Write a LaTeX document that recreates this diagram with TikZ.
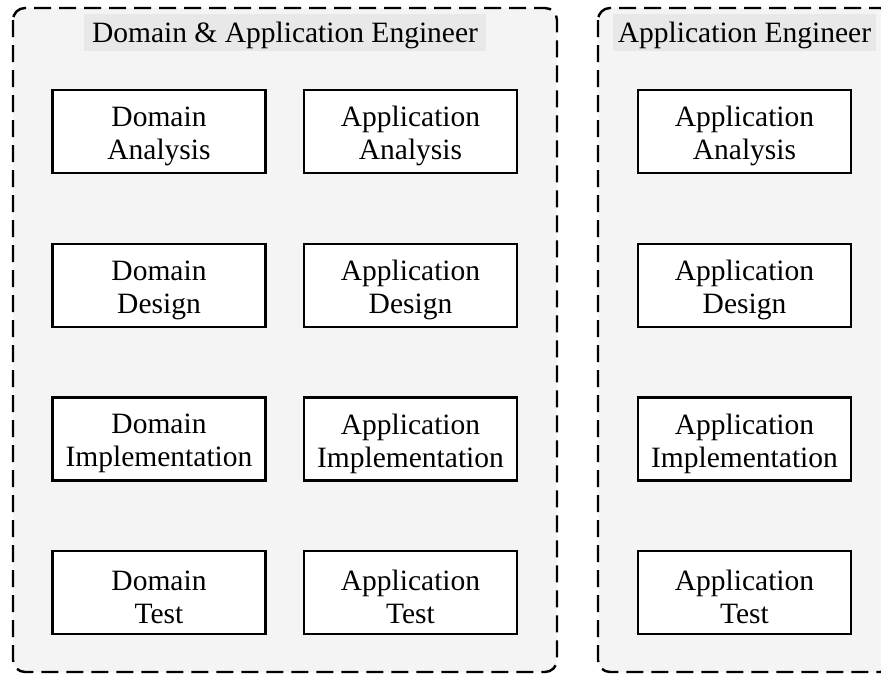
\documentclass[tikz,border=0pt]{standalone}
\usepackage{fontspec}
\setmainfont{Liberation Serif}
\definecolor{panelfill}{HTML}{F4F4F4}
\definecolor{titlefill}{HTML}{E8E8E8}
\tikzset{
  panel/.style={draw=black, fill=panelfill, line width=2.4pt, dash pattern=on 17pt off 8pt, rounded corners=12pt},
  titlebox/.style={fill=titlefill, inner sep=0pt, minimum height=37pt, text height=23pt, text depth=3pt, font=\fontsize{29.5}{33}\selectfont},
  actbox/.style={draw=black, fill=white, line width=2.4pt, minimum width=213pt, minimum height=83pt, inner sep=0pt},
  boxtext/.style={inner sep=0pt, align=center, font=\fontsize{29.5}{33}\selectfont}
}
\begin{document}
\begin{tikzpicture}[x=1pt,y=-1pt]
\useasboundingbox (0,0) rectangle (881,675);
\clip (0,0) rectangle (881,675);
% panels
\draw[panel] (13,8) rectangle (557,672);
\draw[panel] (598,8) rectangle (892,672);
% titles
\node[titlebox, minimum width=402pt] (t1) at (285,32.5) {Domain \& Application Engineer};
\node[titlebox, minimum width=263pt] (t2) at (744.5,32.5) {Application Engineer};
% column 1
\node[actbox] (da) at (159,131.5) {};
\node[actbox] (dd) at (159,285.5) {};
\node[actbox] (di) at (159,439) {};
\node[actbox] (dt) at (159,592.5) {};
% column 2
\node[actbox] (aa) at (410.5,131.5) {};
\node[actbox] (ad) at (410.5,285.5) {};
\node[actbox] (ai) at (410.5,439) {};
\node[actbox] (at) at (410.5,592.5) {};
% column 3
\node[actbox] (ba) at (744.5,131.5) {};
\node[actbox] (bd) at (744.5,285.5) {};
\node[actbox] (bi) at (744.5,439) {};
\node[actbox] (bt) at (744.5,592.5) {};
% texts
\node[boxtext] (daT) at ([yshift=-4.5pt]da.center) {Domain\\Analysis};
\node[boxtext] (ddT) at ([yshift=-4.5pt]dd.center) {Domain\\Design};
\node[boxtext] (diT) at ([yshift=-4.5pt]di.center) {Domain\\Implementation};
\node[boxtext] (dtT) at ([yshift=-4.5pt]dt.center) {Domain\\Test};
\node[boxtext] (aaT) at ([yshift=-4.5pt]aa.center) {Application\\Analysis};
\node[boxtext] (adT) at ([yshift=-4.5pt]ad.center) {Application\\Design};
\node[boxtext] (aiT) at ([yshift=-4.5pt]ai.center) {Application\\Implementation};
\node[boxtext] (atT) at ([yshift=-4.5pt]at.center) {Application\\Test};
\node[boxtext] (baT) at ([yshift=-4.5pt]ba.center) {Application\\Analysis};
\node[boxtext] (bdT) at ([yshift=-4.5pt]bd.center) {Application\\Design};
\node[boxtext] (biT) at ([yshift=-4.5pt]bi.center) {Application\\Implementation};
\node[boxtext] (btT) at ([yshift=-4.5pt]bt.center) {Application\\Test};
\end{tikzpicture}
\end{document}
